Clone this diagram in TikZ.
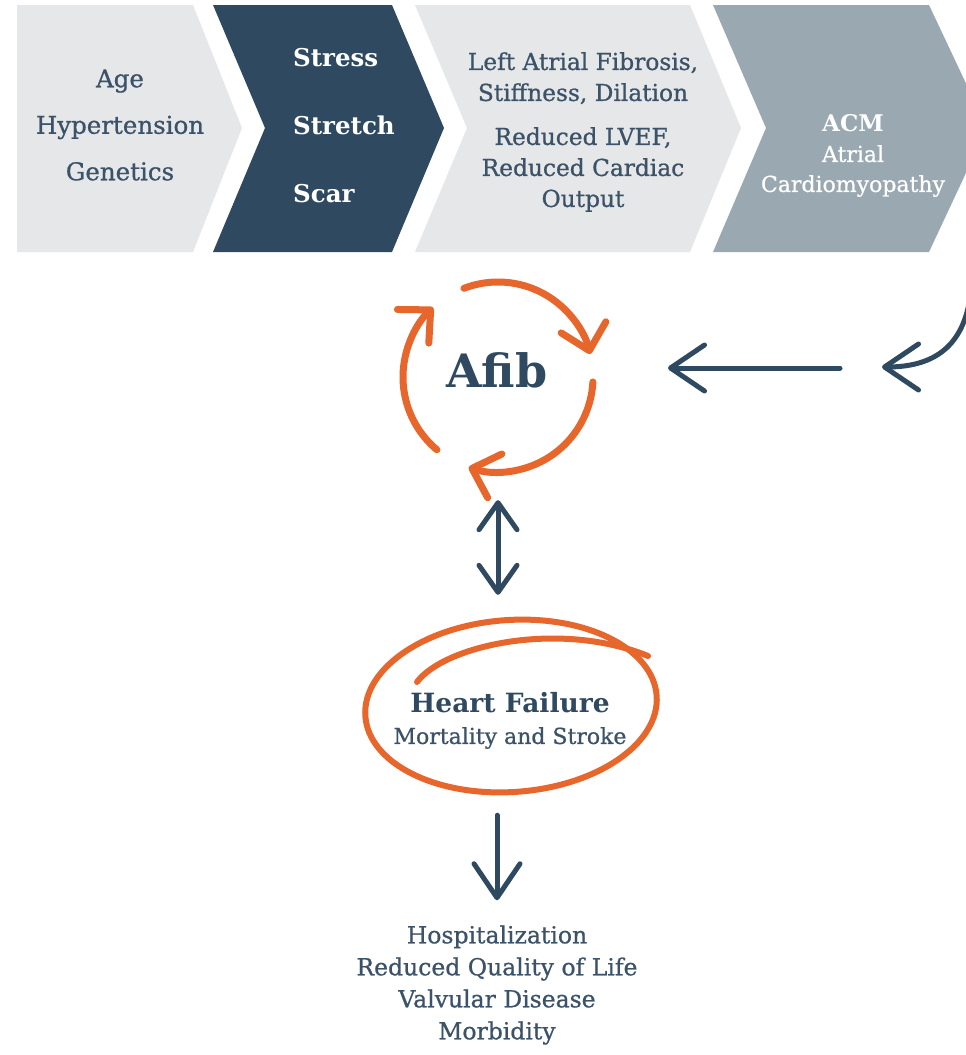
\documentclass[tikz,border=0pt]{standalone}
\usepackage{fontspec}
\setmainfont{DejaVu Serif}
\newfontfamily\mediumserif[FakeBold=0.8]{DejaVu Serif}
\usetikzlibrary{arrows.meta,calc,shapes.geometric}
\definecolor{navy}{HTML}{2F4A60}
\definecolor{inknavy}{HTML}{3B5268}
\definecolor{pale}{HTML}{E5E7E8}
\definecolor{slate}{HTML}{9AA8B1}
\definecolor{rust}{HTML}{E6662B}

\begin{document}
\begin{tikzpicture}[x=1pt, y=-1pt,
	txt/.style={text=inknavy, align=center, inner sep=0pt},
	whitetxt/.style={text=white, inner sep=0pt},
	navyarrow/.style={draw=navy, line width=5pt, line cap=round, >={Straight Barb[length=34pt, width=46pt, round]}},
	dblarrow/.style={draw=navy, line width=5pt, line cap=round, >={Straight Barb[length=27pt, width=38pt, round]}},
	cycarrow/.style={draw=rust, line width=7pt, line cap=round, -{Straight Barb[length=24pt, width=46pt, round]}},
	hfline/.style={draw=rust, line width=6pt, line cap=round}]
			%%%%% START %%%%%
			\clip (0,0) rectangle (966,1055);
			\fill[white] (0,0) rectangle (966,1055);
			
			% chevron strip
			\fill[pale] (17,5) -- (193,5) -- (242,128) -- (193,252) -- (17,252) -- cycle;
			\fill[navy] (213,5) -- (392,5) -- (444,128) -- (392,252) -- (213,252) -- (265,128) -- cycle;
			\fill[pale] (415,5) -- (690,5) -- (741,128) -- (690,252) -- (415,252) -- (467,128) -- cycle;
			\fill[slate] (713,5) -- (929,5) -- (987,128) -- (929,252) -- (713,252) -- (766,128) -- cycle;
			
			\node[txt, font=\mediumserif\fontsize{24.5}{46.5}\selectfont] (risk) at (120,125) {Age\\Hypertension\\Genetics};
			\node[whitetxt, align=left, anchor=west, font=\bfseries\fontsize{24.5}{68}\selectfont] (sss) at (293,126) {Stress\\Stretch\\Scar};
			\node[txt, font=\mediumserif\fontsize{23.3}{31}\selectfont] (remodel) at (583,132) {Left Atrial Fibrosis,\\Stiffness, Dilation\\[13pt]Reduced LVEF,\\Reduced Cardiac\\Output};
			\node[whitetxt, font=\bfseries\fontsize{23}{23}\selectfont] (acm) at (853,123) {ACM};
			\node[whitetxt, align=center, font=\mediumserif\fontsize{22}{30}\selectfont] (acmlong) at (853,171) {Atrial\\Cardiomyopathy};
			
			% afib cycle
			\coordinate (cyc) at (498,377);
			\node[circle, minimum size=190pt, inner sep=0pt] (ring) at (cyc) {};
			\node[text=navy, inner sep=0pt, font=\bfseries\fontsize{46}{46}\selectfont] (afib) at (497,370) {Afib};
			\draw[cycarrow] ($(cyc)+(-111:95)$) arc (-111:-14:95);
			\draw[cycarrow] ($(cyc)+(3:95)$) arc (3:108:95);
			\draw[cycarrow] ($(cyc)+(130:95)$) arc (130:227:95);
			
			% from ACM into afib
			\coordinate (acmout) at (970,298);
			\coordinate (acmtip) at (882,367);
			\coordinate (arrR) at (840,368);
			\coordinate (arrL) at (668,368);
			\draw[navyarrow, ->] (acmout) .. controls (962,350) and (930,367) .. (acmtip);
			\draw[navyarrow, ->] (arrR) -- (arrL);
			
			% heart failure
			\node[ellipse, minimum width=292pt, minimum height=172pt, inner sep=0pt] (hfring) at (511,706) {};
			\draw[hfline, rotate around={4:(511,706)}] (511,706) ellipse [x radius=146, y radius=86];
			\draw[hfline] (417,682) .. controls (445,645) and (560,620) .. (648,656);
			\node[text=navy, inner sep=0pt, font=\bfseries\fontsize{26.5}{26.5}\selectfont] (hf) at (510,703) {Heart Failure};
			\node[text=inknavy, inner sep=0pt, font=\mediumserif\fontsize{22}{22}\selectfont] (hfsub) at (510,738) {Mortality and Stroke};
			
			\draw[dblarrow, <->, shorten <=28pt, shorten >=25pt] (ring.south) -- (ring.south |- hfring.north);
			
			% outcomes
			\node[txt, font=\mediumserif\fontsize{23.5}{32}\selectfont] (outcomes) at (497,985) {Hospitalization\\Reduced Quality of Life\\Valvular Disease\\Morbidity};
			\draw[navyarrow, ->, shorten <=23pt, shorten >=25pt] (outcomes.north |- hfring.south) -- (outcomes.north);
			%%%%% END %%%%%
\end{tikzpicture}
\end{document}
